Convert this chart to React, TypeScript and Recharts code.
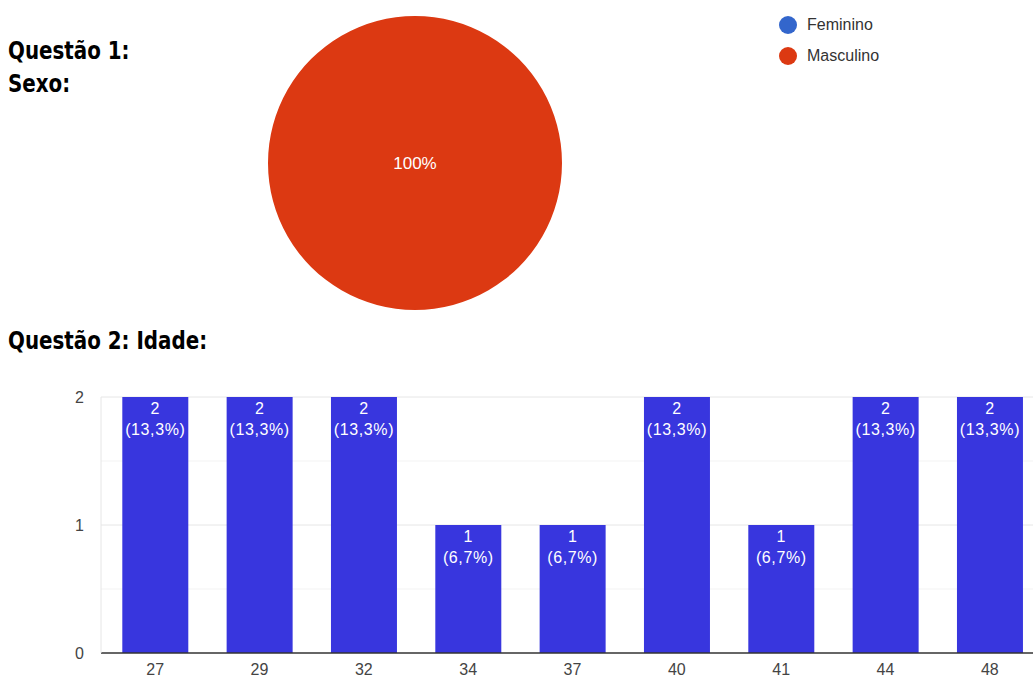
import React from 'react';
import {
  PieChart,
  Pie,
  Cell,
  Legend,
  BarChart,
  Bar,
  XAxis,
  YAxis,
  CartesianGrid,
  LabelList
} from 'recharts';

const sexLabels = ['Feminino', 'Masculino'];
const sexCounts = [0, 15];
const sexColors = ['#3366CC', '#DC3912'];

const ages = ['27', '29', '32', '34', '37', '40', '41', '44', '48'];
const ageCounts = [2, 2, 2, 1, 1, 2, 1, 2, 2];
const yTicks = [0, 1, 2];

const sexData = sexLabels.map((name, i) => ({ name, value: sexCounts[i] }));
const ageData = ages.map((age, i) => ({ age, count: ageCounts[i] }));
const ageTotal = ageCounts.reduce((a, b) => a + b, 0);

const titleStyle: React.CSSProperties = {
  position: 'absolute',
  fontFamily: "'DejaVu Sans Condensed', 'DejaVu Sans', sans-serif",
  fontStretch: 'condensed',
  fontWeight: 'bold',
  fontSize: 23,
  lineHeight: '23px',
  color: '#000',
  whiteSpace: 'nowrap',
  transformOrigin: '0 0',
  transform: 'scale(0.96, 1.05)'
};

const font = "Arial, 'Liberation Sans', sans-serif";

const PieLabel = (props: any) => {
  const { cx, cy, percent } = props;
  if (!percent) return null;
  return (
    <text x={cx} y={cy} fill="#fff" fontSize={17} fontFamily={font} textAnchor="middle" dominantBaseline="central">
      {Math.round(percent * 100) + '%'}
    </text>
  );
};

const PieLegend = (props: any) => {
  const items = props.payload || [];
  return (
    <div>
      {items.map((it: any) => (
        <div key={it.value} style={{ display: 'flex', alignItems: 'center', height: 31, fontFamily: font, fontSize: 16, color: '#333' }}>
          <span style={{ width: 18, height: 18, borderRadius: 9, background: it.color, display: 'inline-block', marginRight: 10 }} />
          {it.value}
        </div>
      ))}
    </div>
  );
};

const BarLabel = (props: any) => {
  const { x, y, width, value } = props;
  const pct = ((value / ageTotal) * 100).toFixed(1).replace('.', ',');
  const cx = x + width / 2;
  return (
    <text x={cx} fill="#fff" fontSize={16} fontFamily={font} textAnchor="middle" letterSpacing={0.6}>
      <tspan x={cx} y={y + 17}>{value}</tspan>
      <tspan x={cx} y={y + 38}>{'(' + pct + '%)'}</tspan>
    </text>
  );
};

export default function App() {
  return (
    <div style={{ position: 'absolute', left: 0, top: 0, width: 1033, height: 679, overflow: 'hidden', background: '#fff' }}>
      <div style={{ ...titleStyle, left: 8, top: 39 }}>Questão 1:</div>
      <div style={{ position: 'absolute', left: 0, top: 70, width: 200, height: 24, overflow: 'hidden' }}>
        <div style={{ ...titleStyle, left: 8, top: 2 }}>Sexo:</div>
      </div>
      <div style={{ ...titleStyle, left: 8, top: 329 }}>Questão 2: Idade:</div>

      <div style={{ position: 'absolute', left: 0, top: 0 }}>
        <PieChart width={1033} height={320} margin={{ top: 0, right: 0, bottom: 0, left: 0 }}>
          <Pie
            data={sexData}
            dataKey="value"
            nameKey="name"
            cx={415}
            cy={163}
            outerRadius={147}
            startAngle={90}
            endAngle={-270}
            stroke="none"
            label={PieLabel}
            labelLine={false}
            isAnimationActive={false}
          >
            {sexData.map((d, i) => (
              <Cell key={d.name} fill={sexColors[i]} />
            ))}
          </Pie>
          <Legend
            content={PieLegend}
            wrapperStyle={{ left: 779, top: 9, width: 'auto' }}
          />
        </PieChart>
      </div>

      <div style={{ position: 'absolute', left: 0, top: 380 }}>
        <BarChart width={1060} height={299} data={ageData} margin={{ top: 17, right: 8, bottom: 0, left: 0 }} barCategoryGap="18.5%">
          <CartesianGrid vertical={false} horizontalValues={[0.5, 1.5]} stroke="#f3f3f3" />
          <CartesianGrid vertical={false} horizontalValues={[1, 2]} stroke="#e6e6e6" />
          <XAxis
            dataKey="age"
            height={26}
            padding={{ left: 2, right: 10 }}
            tickLine={false}
            tickSize={0}
            tickMargin={11}
            axisLine={{ stroke: '#333', strokeWidth: 1.5 }}
            tick={{ fill: '#444', fontSize: 16, fontFamily: font }}
          />
          <YAxis
            width={101}
            domain={[0, 2]}
            ticks={yTicks}
            tickLine={false}
            tickSize={0}
            tickMargin={17}
            axisLine={{ stroke: '#e6e6e6' }}
            tick={{ fill: '#444', fontSize: 16, fontFamily: font }}
          />
          <Bar dataKey="count" fill="#3836DE" isAnimationActive={false}>
            <LabelList dataKey="count" content={BarLabel} />
          </Bar>
        </BarChart>
      </div>
    </div>
  );
}
